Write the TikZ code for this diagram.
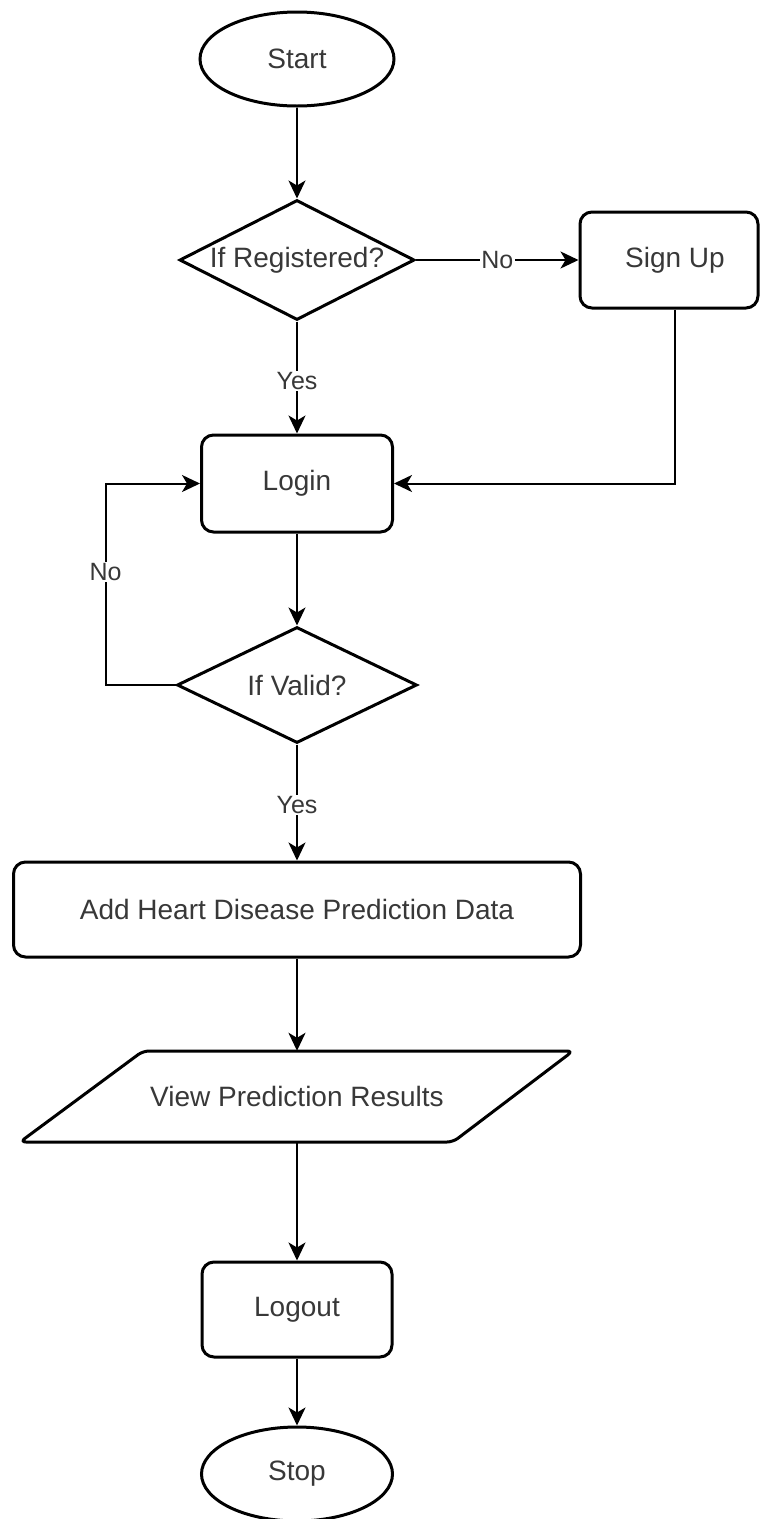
\documentclass[tikz,border=0pt]{standalone}
\usepackage{fontspec}
\setmainfont{Liberation Sans}
\usetikzlibrary{shapes.geometric,arrows.meta,calc}
\begin{document}
\begin{tikzpicture}[x=1pt,y=-1pt,
  txt/.style={text=black!78, font=\fontsize{28}{32}\selectfont},
  base/.style={draw=black, line width=3pt, inner sep=0pt, txt},
  terminal/.style={base, ellipse, minimum width=194pt, minimum height=94pt},
  process/.style={base, rectangle, rounded corners=12pt},
  decision/.style={base, diamond},
  flow/.style={draw=black, line width=2pt, -{Stealth[length=18pt,width=17pt,inset=5pt]}},
  lbl/.style={fill=white, inner sep=1.5pt, text=black!78, font=\fontsize{25}{28}\selectfont},
]
\useasboundingbox (0,0) rectangle (760,1519);

% shapes
\node[terminal] (start) at (297,59) {Start};
\node[decision, minimum width=235pt, minimum height=120pt,
      label={[txt]center:If Registered?}] (reg) at (297,260) {};
\node[process, minimum width=178pt, minimum height=96pt] (signup) at (669,260) {\hspace*{12pt}Sign Up};
\node[process, minimum width=191pt, minimum height=97pt] (login) at (297,483.5) {Login};
\node[decision, minimum width=240pt, minimum height=116pt,
      label={[txt]center:If Valid?}] (valid) at (297,685) {};
\node[process, minimum width=567pt, minimum height=95pt] (add) at (297,909.5) {Add Heart Disease Prediction Data};

% input/output parallelogram
\draw[line width=3pt, rounded corners=6pt]
  (143,1051) -- (573,1051) -- (453,1142) -- (20,1142) -- cycle;
\node[txt, inner sep=0pt, minimum width=300pt, minimum height=91pt] (view) at (297,1096.5) {View Prediction Results};

\node[process, minimum width=190pt, minimum height=95pt] (logout) at (297,1309.5) {Logout};
\node[terminal, minimum width=191pt] (stop) at (297,1474) {Stop};

% connectors
\draw[flow] (start.south) -- (reg.north);
\draw[flow] (reg.east) -- node[lbl]{No} (signup.west);
\draw[flow] (reg.south) -- node[lbl, pos=0.53]{Yes} (login.north);
\draw[flow] ($(signup.south)+(6,0)$) |- (login.east);
\draw[flow] (login.south) -- (valid.north);
\draw[flow] (valid.west) -- ++(-70,0) |- node[lbl, pos=0.28]{No} (login.west);
\draw[flow] (valid.south) -- node[lbl, pos=0.52]{Yes} (add.north);
\draw[flow] (add.south) -- (view.north);
\draw[flow] (view.south) -- (logout.north);
\draw[flow] (logout.south) -- (stop.north);
\end{tikzpicture}
\end{document}
